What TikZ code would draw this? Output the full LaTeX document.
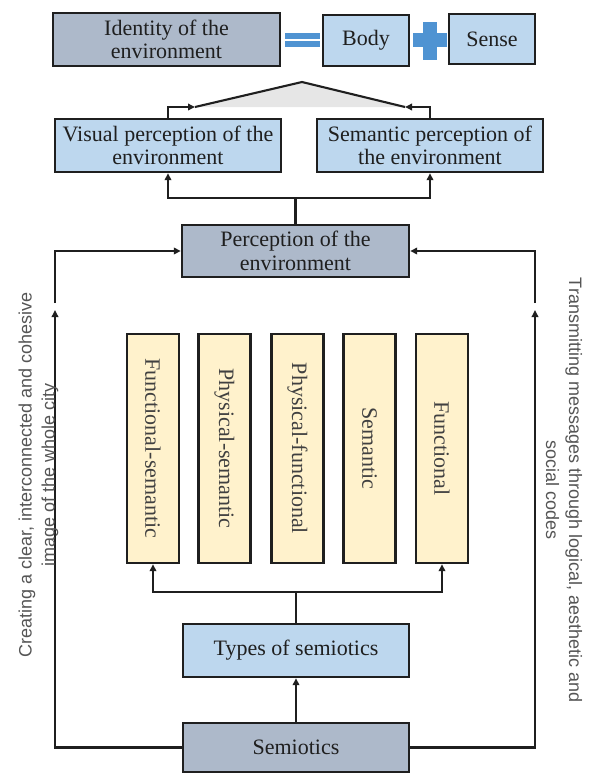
\documentclass[tikz,border=0pt]{standalone}
\usepackage{fontspec}
\usepackage{graphicx}
\setmainfont{Liberation Serif}
\setsansfont{Liberation Sans}
\usetikzlibrary{arrows.meta}
\definecolor{darkfill}{HTML}{ADB9CA}
\definecolor{lightfill}{HTML}{BDD7EE}
\definecolor{yellowfill}{HTML}{FFF2CC}
\definecolor{boxline}{HTML}{1F1F1F}
\definecolor{txt}{HTML}{1F1F1F}
\definecolor{ytxt}{HTML}{404040}
\definecolor{sidetxt}{HTML}{555555}
\definecolor{opblue}{HTML}{4F93D2}
\definecolor{trifill}{HTML}{E6E6E6}
\begin{document}
\begin{tikzpicture}[x=1pt,y=-1pt,
  box/.style={draw=boxline, line width=2.4pt, inner sep=0pt, align=center,
    font=\fontsize{22}{23.5}\selectfont, text=txt},
  dbox/.style={box, fill=darkfill},
  lbox/.style={box, fill=lightfill},
  wide/.style={minimum width=226pt, minimum height=53pt},
  ybox/.style={box, fill=yellowfill, minimum width=52pt, minimum height=229pt,
    text=ytxt},
  conn/.style={line width=2.1pt, draw=boxline},
  arr/.style={conn, -{Triangle[length=7pt,width=6.5pt]}},
  side/.style={font=\sffamily\fontsize{18}{23}\selectfont, text=sidetxt,
    align=center, inner sep=0pt}]
\useasboundingbox (0,0) rectangle (589,774);

% top row
\node[dbox, minimum width=227pt, minimum height=53pt] (id) at (166.5,39.5) {Identity of the\\environment};
\node[lbox, minimum width=86pt, minimum height=51pt] (body) at (366,40.5) {Body};
\node[lbox, minimum width=86pt, minimum height=50pt] (sense) at (492,39) {Sense};
\fill[opblue] (285,33) rectangle (320,39.3);
\fill[opblue] (285,41) rectangle (320,47.3);
\fill[opblue] (423,22) rectangle (437,60);
\fill[opblue] (413,33) rectangle (447,47);

% perception row
\node[lbox, wide] (vis) at (168,145.5) {Visual perception of the\\environment};
\node[lbox, wide] (sem) at (430,145.5) {Semantic perception of\\the environment};
\node[dbox, minimum width=227pt, minimum height=52pt] (perc) at (295.5,251) {Perception of the\\environment};

% triangle
\coordinate (tl) at (195,107);
\coordinate (tr) at (405,107);
\coordinate (apex) at (302,82);
\fill[trifill] (tl) -- (apex) -- (tr) -- cycle;
\draw[conn] (tl) -- (apex) -- (tr);
\draw[arr] (vis.north) |- (tl);
\draw[arr] (sem.north) |- (tr);

% perception -> visual / semantic
\coordinate (split) at (295.5,198);
\draw[conn] (perc.north) -- (split);
\draw[arr] (split) -| (vis.south);
\draw[arr] (split) -| (sem.south);

% yellow types
\node[ybox] (t1) at (153,448.5) {\rotatebox{-90}{Functional-semantic}};
\node[ybox] (t2) at (224.5,448.5) {\rotatebox{-90}{Physical-semantic}};
\node[ybox] (t3) at (297.5,448.5) {\rotatebox{-90}{Physical-functional}};
\node[ybox] (t4) at (369.5,448.5) {\rotatebox{-90}{Semantic}};
\node[ybox] (t5) at (442,448.5) {\rotatebox{-90}{Functional}};

% bottom
\node[lbox, wide] (types) at (296,650.5) {Types of semiotics};
\node[dbox, minimum width=226pt, minimum height=49pt] (semio) at (296,747.5) {Semiotics};

\coordinate (tsplit) at (296,592);
\draw[conn] (types.north) -- (tsplit);
\draw[arr] (tsplit) -| (t1.south);
\draw[arr] (tsplit) -| (t5.south);
\draw[arr] (semio.north) -- (types.south);

% side loops
\coordinate (lb) at (55,310);
\coordinate (lt) at (55,303);
\coordinate (rb) at (535,310);
\coordinate (rt) at (535,303);
\draw[arr] (semio.west) -| (lb);
\draw[arr] (lt) |- (perc.west);
\draw[arr] (semio.east) -| (rb);
\draw[arr] (rt) |- (perc.east);

% side texts
\node[side, rotate=90] (ltext) at (38.5,475) {Creating a clear, interconnected and cohesive\\image of the whole city};
\node[side, rotate=-90] (rtext) at (564,490) {Transmitting messages through logical, aesthetic and\\social codes};
\end{tikzpicture}
\end{document}
